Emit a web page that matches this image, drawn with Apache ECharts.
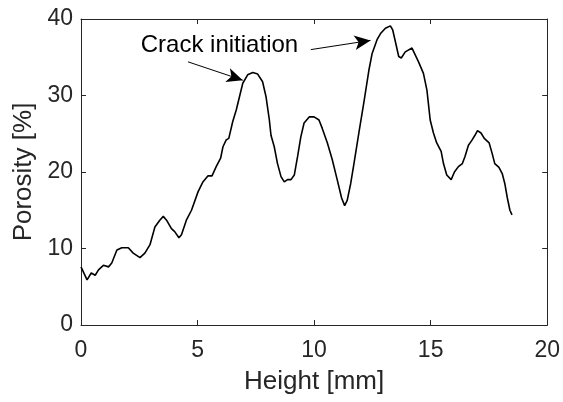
<!DOCTYPE html>
<html><head><meta charset="utf-8">
<script src="https://cdn.jsdelivr.net/npm/echarts@6/dist/echarts.min.js"></script>
<style>html,body{margin:0;padding:0;background:#fff}#c{width:563px;height:402px}</style>
</head><body><div id="c"></div>
<script>
const heightMm = [0,0.26,0.44,0.61,0.75,0.96,1.18,1.32,1.54,1.75,
2.03,2.24,2.53,2.74,2.96,3.17,3.38,3.53,3.67,3.88,
4.02,4.20,4.31,4.52,4.74,5.02,5.23,5.45,5.62,5.80,
5.99,6.09,6.23,6.34,6.51,6.66,6.94,7.15,7.37,7.58,
7.79,7.94,8.08,8.15,8.29,8.43,8.58,8.72,8.86,9.01,
9.15,9.29,9.43,9.57,9.79,10.0,10.21,10.35,10.57,10.78,
10.99,11.18,11.31,11.42,11.57,11.71,11.92,12.13,12.35,12.49,
12.70,12.85,13.06,13.27,13.37,13.49,13.63,13.74,13.91,14.2,
14.27,14.48,14.69,14.84,14.98,15.12,15.26,15.45,15.55,15.69,
15.88,16.02,16.19,16.36,16.47,16.62,16.76,16.9,17.01,17.16,
17.3,17.51,17.64,17.75,17.93,18.07,18.18,18.29,18.4,18.49];
const porosity = [7.6,5.9,6.8,6.5,7.2,7.8,7.6,8.1,9.8,10.1,
10.1,9.4,8.8,9.4,10.5,12.8,13.7,14.2,13.7,12.6,
12.2,11.4,11.8,13.7,15.0,17.4,18.7,19.5,19.5,20.7,
21.8,23.3,24.2,24.4,26.6,28.1,31.6,32.7,33.0,32.8,
31.8,29.8,26.8,24.8,23.3,21.1,19.4,18.7,19.0,19.0,
19.6,22.0,24.6,26.4,27.2,27.2,26.8,25.7,23.8,21.6,
19.0,16.6,15.6,16.3,18.5,21.1,25.1,29.0,33.3,35.5,
37.3,38.1,38.8,39.1,38.6,37.0,35.1,34.9,35.7,36.2,
36.0,34.4,32.9,30.7,26.8,25.1,23.8,22.7,21.1,19.6,
19.0,20.0,20.7,21.1,22.0,23.5,24.1,24.8,25.4,25.1,
24.4,23.8,22.4,21.1,20.6,19.8,18.5,16.6,15.0,14.4];
const annotationText = 'Crack initiation';
const annotationPos = [5.94, 36.55];
const arrow1 = [[4.59, 34.4], [6.94, 32.0]];
const arrow2 = [[9.86, 36.0], [12.42, 37.2]];
const xTicks = [0, 20, 5];
const yTicks = [0, 40, 10];

const FONT = 'Liberation Sans, Arial, Helvetica, sans-serif';
const AX = '#262626';
const chart = echarts.init(document.getElementById('c'), null, {renderer:'canvas'});
const axBase = {
  axisLine:{show:true, onZero:false, lineStyle:{color:AX, width:1}},
  axisTick:{show:true, inside:true, length:5, lineStyle:{color:AX}},
  splitLine:{show:false}
};
const data = heightMm.map((x,i)=>[x, porosity[i]]);
chart.setOption({
  animation:false,
  grid:{left:81, right:14, top:19, bottom:77, containLabel:false},
  xAxis:[
    Object.assign({type:'value', min:xTicks[0], max:xTicks[1], interval:xTicks[2], position:'bottom',
      name:'Height [mm]', nameLocation:'middle', nameGap:44,
      nameTextStyle:{fontFamily:FONT, fontSize:26, color:AX},
      axisLabel:{fontFamily:FONT, fontSize:23, color:AX, margin:14}}, axBase),
    Object.assign({type:'value', min:xTicks[0], max:xTicks[1], interval:xTicks[2], position:'top',
      axisLabel:{show:false}}, axBase)
  ],
  yAxis:[
    Object.assign({type:'value', min:yTicks[0], max:yTicks[1], interval:yTicks[2], position:'left',
      name:'Porosity [%]', nameLocation:'middle', nameGap:40,
      nameTextStyle:{fontFamily:FONT, fontSize:26, color:AX},
      axisLabel:{fontFamily:FONT, fontSize:23, color:AX, margin:8}}, axBase),
    Object.assign({type:'value', min:yTicks[0], max:yTicks[1], interval:yTicks[2], position:'right',
      axisLabel:{show:false}}, axBase)
  ],
  series:[{
    type:'line', data:data, showSymbol:false, symbol:'none',
    lineStyle:{color:'#000', width:1.6},
    markLine:{
      silent:true, symbol:['none','arrow'], symbolSize:[11,16],
      lineStyle:{color:'#000', width:1, type:'solid'},
      label:{show:false},
      data:[
        [{coord:arrow1[0]},{coord:arrow1[1]}],
        [{coord:arrow2[0]},{coord:arrow2[1]}]
      ]
    },
    markPoint:{
      silent:true,
      data:[{coord:annotationPos, symbol:'rect', symbolSize:0,
        label:{show:true, position:'inside', formatter:annotationText,
          fontFamily:FONT, fontSize:24, color:'#000'}}]
    }
  }]
});
</script></body></html>
